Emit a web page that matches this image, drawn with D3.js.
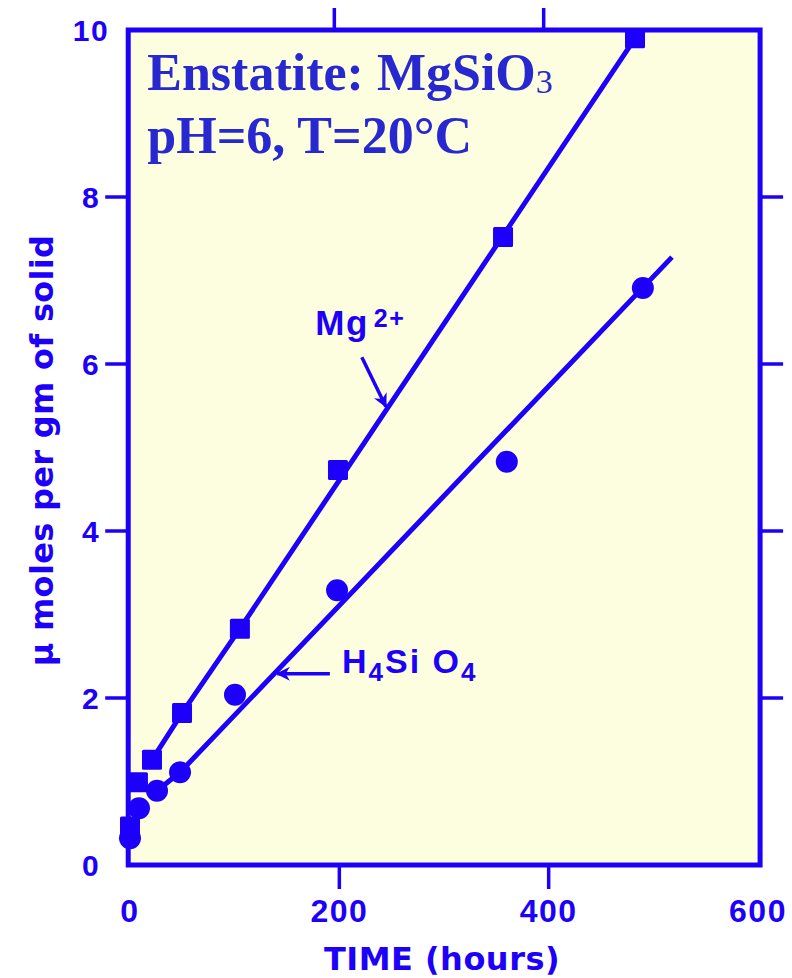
<!DOCTYPE html>
<html>
<head>
<meta charset="utf-8">
<script src="https://cdn.jsdelivr.net/npm/d3@7.9.0/dist/d3.min.js"></script>
<style>
  body { margin: 0; background: #fff; }
  svg { display: block; }
</style>
</head>
<body>
<div id="chart"></div>
<script>
// data: [hours, µmoles per gm]
const mgPoints = [[0, 0.46], [7.6, 0.99], [21, 1.26], [49.7, 1.82], [105, 2.83], [198.7, 4.73], [356.4, 7.52], [482.5, 9.9]];
const siPoints = [[0, 0.32], [8.6, 0.68], [25.8, 0.89], [47.8, 1.11], [100.3, 2.04], [197.8, 3.29], [360, 4.83], [490, 6.91]];
// drawn trend lines
const mgLine = [[21, 1.26], [49.7, 1.82], [105, 2.83], [482.5, 9.9]];
const siLine = [[25.8, 0.89], [47.8, 1.11], [517.8, 7.28]];

const xTicks = [0, 200, 400, 600];
const yTicks = [0, 2, 4, 6, 8, 10];
const xMinorTicks = [200, 400];
const yMinorTicks = [2, 4, 6, 8];

const width = 792;
const height = 978;
const blue = '#1c00fa';
const titleBlue = '#2828d0';

const svg = d3.select('#chart')
    .append('svg')
    .attr('width', width)
    .attr('height', height);

const xScale = d3.scaleLinear().domain([0, 600]).range([130, 758]);
const yScale = d3.scaleLinear().domain([0, 10]).range([865, 30]);

// plot frame (yellow paper)
svg.append('rect')
    .attr('x', xScale(-1.7))
    .attr('y', yScale(10))
    .attr('width', xScale(602) - xScale(-1.7))
    .attr('height', yScale(0) - yScale(10))
    .attr('fill', '#fdfde0')
    .attr('stroke', blue)
    .attr('stroke-width', 5);

const frameLeft = xScale(-1.7);
const frameRight = xScale(602);

// ticks outside the frame
const tickG = svg.append('g').attr('stroke', blue).attr('stroke-width', 3.5);
tickG.selectAll('.lt').data(yMinorTicks).enter().append('line')
    .attr('x1', frameLeft - 23).attr('x2', frameLeft)
    .attr('y1', d => yScale(d)).attr('y2', d => yScale(d));
tickG.selectAll('.rt').data(yMinorTicks).enter().append('line')
    .attr('x1', frameRight).attr('x2', frameRight + 23)
    .attr('y1', d => yScale(d)).attr('y2', d => yScale(d));
tickG.selectAll('.tt').data(xMinorTicks).enter().append('line')
    .attr('x1', d => xScale(d) - 5).attr('x2', d => xScale(d) - 5)
    .attr('y1', yScale(10) - 22).attr('y2', yScale(10));
tickG.selectAll('.bt').data(xMinorTicks).enter().append('line')
    .attr('x1', d => xScale(d)).attr('x2', d => xScale(d))
    .attr('y1', yScale(0)).attr('y2', yScale(0) + 24);

// tick labels
svg.append('g').selectAll('text').data(xTicks).enter().append('text')
    .attr('x', d => xScale(d))
    .attr('y', 922)
    .attr('text-anchor', 'middle')
    .attr('fill', blue)
    .style('font', 'bold 32px "Liberation Sans", Arial, sans-serif')
    .style('letter-spacing', '1.5px')
    .text(d => d);

svg.append('g').selectAll('text').data(yTicks).enter().append('text')
    .attr('x', 91)
    .attr('y', d => yScale(d))
    .attr('dy', '0.36em')
    .attr('text-anchor', 'middle')
    .attr('fill', blue)
    .style('font', 'bold 30px "Liberation Sans", Arial, sans-serif')
    .style('letter-spacing', '1.5px')
    .text(d => d);

// axis titles
svg.append('text')
    .attr('x', (xScale(0) + xScale(600)) / 2 - 2)
    .attr('y', 970)
    .attr('text-anchor', 'middle')
    .attr('fill', blue)
    .style('font', 'bold 32px "DejaVu Sans", sans-serif')
    .style('letter-spacing', '0.5px')
    .text('TIME (hours)');

svg.append('text')
    .attr('transform', `translate(53, ${yScale(5) + 3}) rotate(-90)`)
    .attr('text-anchor', 'middle')
    .attr('fill', blue)
    .style('font', 'bold 32px "DejaVu Sans", sans-serif')
    .style('letter-spacing', '0.3px')
    .text('μ moles per gm of solid');

// trend lines
const line = d3.line().x(d => xScale(d[0])).y(d => yScale(d[1]));
svg.append('path').datum(mgLine)
    .attr('d', line).attr('fill', 'none')
    .attr('stroke', blue).attr('stroke-width', 5);
svg.append('path').datum(siLine)
    .attr('d', line).attr('fill', 'none')
    .attr('stroke', blue).attr('stroke-width', 5);

// markers
svg.append('g').selectAll('rect').data(mgPoints).enter().append('rect')
    .attr('x', d => xScale(d[0]) - 10)
    .attr('y', d => yScale(d[1]) - 10)
    .attr('width', 20).attr('height', 20)
    .attr('rx', 1.5)
    .attr('fill', blue);

svg.append('g').selectAll('circle').data(siPoints).enter().append('circle')
    .attr('cx', d => xScale(d[0]))
    .attr('cy', d => yScale(d[1]))
    .attr('r', 11)
    .attr('fill', blue);

// arrow heads
const defs = svg.append('defs');
defs.append('marker')
    .attr('id', 'arrow')
    .attr('viewBox', '0 0 10 10')
    .attr('refX', 9).attr('refY', 5)
    .attr('markerWidth', 5).attr('markerHeight', 4)
    .attr('orient', 'auto')
    .append('path')
    .attr('d', 'M0,0L10,5L0,10L3,5Z')
    .attr('fill', blue);

// Mg2+ label + arrow
const mgLabel = svg.append('text')
    .attr('x', xScale(177))
    .attr('y', yScale(6.35))
    .attr('fill', blue)
    .style('font', 'bold 35px "Liberation Sans", Arial, sans-serif')
    .style('letter-spacing', '1.5px');
mgLabel.append('tspan').text('Mg');
mgLabel.append('tspan').attr('dx', 5).attr('dy', -8)
    .style('font-size', '25px').text('2+');

svg.append('line')
    .attr('x1', xScale(221.5)).attr('y1', yScale(6.08))
    .attr('x2', xScale(244.4)).attr('y2', yScale(5.49))
    .attr('stroke', blue).attr('stroke-width', 3.5)
    .attr('marker-end', 'url(#arrow)');

// H4SiO4 label + arrow
const siLabel = svg.append('text')
    .attr('x', xScale(202.5))
    .attr('y', yScale(2.3))
    .attr('fill', blue)
    .style('font', 'bold 34px "Liberation Sans", Arial, sans-serif')
    .style('letter-spacing', '2px');
siLabel.append('tspan').text('H');
siLabel.append('tspan').attr('dy', 8).style('font-size', '26px').text('4');
siLabel.append('tspan').attr('dy', -8).text('Si O');
siLabel.append('tspan').attr('dy', 8).style('font-size', '26px').text('4');

svg.append('line')
    .attr('x1', xScale(191)).attr('y1', yScale(2.29))
    .attr('x2', xScale(140.7)).attr('y2', yScale(2.29))
    .attr('stroke', blue).attr('stroke-width', 3.5)
    .attr('marker-end', 'url(#arrow)');

// title block
const title = svg.append('g')
    .attr('fill', titleBlue)
    .style('font', 'bold 52px "Liberation Serif", "Times New Roman", serif');
const t1 = title.append('text')
    .attr('x', xScale(16.5))
    .attr('y', yScale(9.28));
t1.append('tspan').text('Enstatite: MgSiO');
t1.append('tspan').attr('dy', 3).style('font-size', '34px').style('font-weight', 'normal').text('3');
title.append('text')
    .attr('x', xScale(16.5))
    .attr('y', yScale(8.53))
    .text('pH=6, T=20°C');
</script>
</body>
</html>
